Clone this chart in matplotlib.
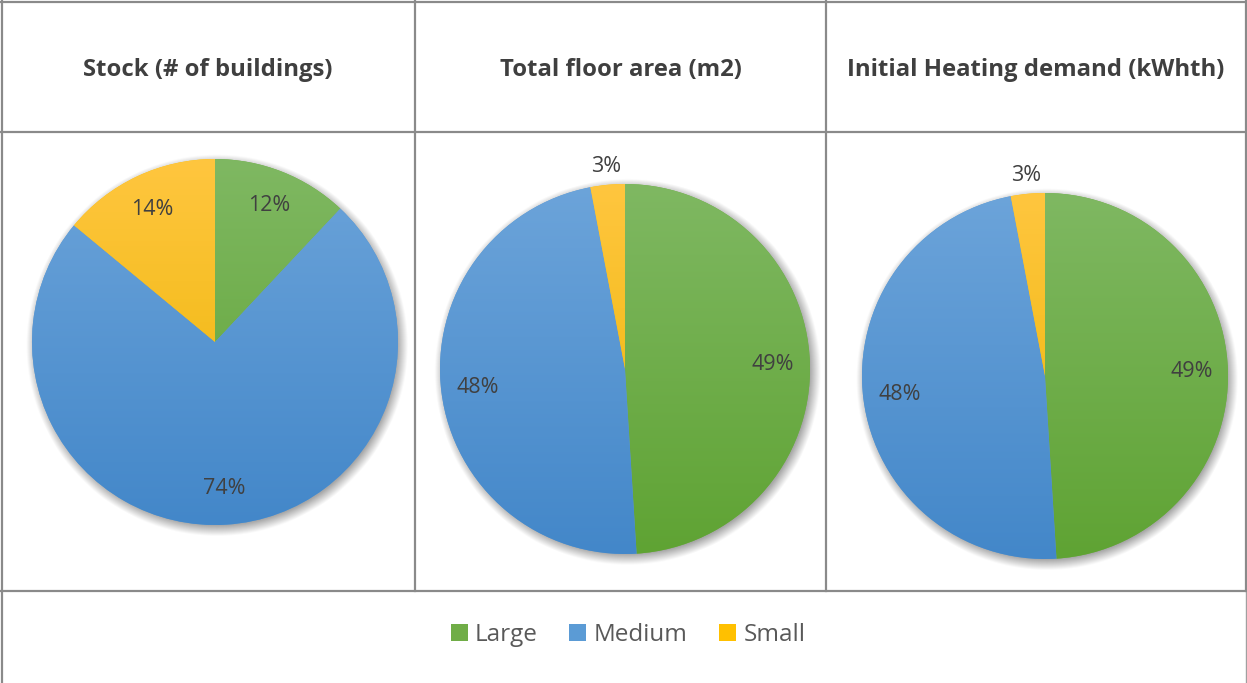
import numpy as np
import matplotlib.pyplot as plt
from matplotlib.lines import Line2D
from matplotlib.patches import Patch
from matplotlib.colors import to_rgb

plt.rcParams['font.family'] = ['Open Sans', 'DejaVu Sans']

# Building stock split by size class
categories = ['Large', 'Medium', 'Small']
titles = ['Stock (# of buildings)', 'Total floor area (m2)', 'Initial Heating demand (kWhth)']
stock_share = [12, 74, 14]
floor_area_share = [49, 48, 3]
heating_share = [49, 48, 3]
shares = [stock_share, floor_area_share, heating_share]

# top / bottom shades of each slice colour (vertical gradient)
top_colors = ['#7fb862', '#6ca4da', '#ffc63f']
bottom_colors = ['#5fa333', '#4387c9', '#eab400']
base_colors = ['#70ad47', '#5b9bd5', '#ffc000']

W, H = 1247, 683
fig = plt.figure(figsize=(W / 100, H / 100), dpi=100)

def fx(px):
    return px / W

def fy(py):
    return 1 - py / H

# table grid
grid_color = '#8a8a8a'
fig.add_artist(Line2D([fx(2), fx(2)], [fy(1), fy(683)], color=grid_color, lw=1.6))
for x in [415, 826, 1246]:
    fig.add_artist(Line2D([fx(x), fx(x)], [fy(1), fy(591)], color=grid_color, lw=1.6))
fig.add_artist(Line2D([fx(1246), fx(1246)], [fy(591), fy(683)], color='#a0a0a0', lw=1.0))
for y in [2, 132, 591]:
    fig.add_artist(Line2D([fx(1), fx(1247)], [fy(y), fy(y)], color=grid_color, lw=1.6))

# column centres for titles
col_centers = [208, 621, 1036]
for cx, t in zip(col_centers, titles):
    fig.text(fx(cx), fy(70), t, ha='center', va='center', fontsize=17.2,
             fontweight='bold', color='#3f3f3f')

# pie centres and radii in pixels
pie_geom = [(215, 342, 183), (625, 369, 185), (1045, 376, 183)]

def gradient(c_top, c_bot, n=256):
    t = np.linspace(0, 1, n)[:, None, None]
    a = np.array(to_rgb(c_top))[None, None, :]
    b = np.array(to_rgb(c_bot))[None, None, :]
    return a * (1 - t) + b * t

for (cx, cy, r), vals in zip(pie_geom, shares):
    ax = fig.add_axes([fx(cx - r), fy(cy + r), 2 * r / W, 2 * r / H])
    ax.set_xlim(-1, 1)
    ax.set_ylim(-1, 1)
    ax.axis('off')

    # soft drop shadow around the disc
    g = np.linspace(-1.12, 1.12, 400)
    X, Y = np.meshgrid(g, g)
    d = np.hypot(X - 0.012, Y + 0.018)
    alpha = np.clip((1.045 - d) / 0.06, 0, 1) * 0.35
    shadow = np.zeros((400, 400, 4))
    shadow[..., 3] = alpha
    ax.imshow(shadow, extent=(-1.12, 1.12, -1.12, 1.12), origin='lower',
              zorder=0, clip_on=False)

    wedges, _, autotexts = ax.pie(vals, colors=base_colors, startangle=90,
                                  counterclock=False, radius=1, autopct='%d%%',
                                  pctdistance=0.8,
                                  textprops=dict(fontsize=15.5, color='#404040'),
                                  wedgeprops=dict(linewidth=0))
    ax.set_xlim(-1, 1)
    ax.set_ylim(-1, 1)
    for w, ct, cb in zip(wedges, top_colors, bottom_colors):
        w.set_zorder(1)
        im = ax.imshow(gradient(ct, cb), extent=(-1, 1, -1, 1), aspect='auto',
                       zorder=2)
        im.set_clip_path(w)
    for w, t, v in zip(wedges, autotexts, vals):
        t.set_zorder(5)
        if v < 5:
            ang = np.deg2rad((w.theta1 + w.theta2) / 2)
            t.set_position((1.1 * np.cos(ang), 1.1 * np.sin(ang)))

handles = [Patch(facecolor=c, edgecolor='none') for c in base_colors]
fig.legend(handles, categories, loc='center', bbox_to_anchor=(fx(628), fy(635)),
           ncol=3, frameon=False, fontsize=17.5, handlelength=0.7, handleheight=0.7,
           handletextpad=0.3, columnspacing=1.3, labelcolor='#595959')

fig.savefig('out.png', dpi=100)
